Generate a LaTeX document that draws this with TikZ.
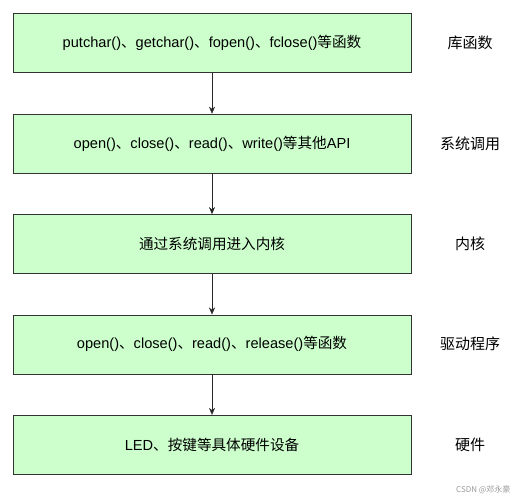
\documentclass[tikz,border=0pt]{standalone}
\usepackage{fontspec}
\setmainfont{Liberation Sans}
\newfontfamily\cjk{Noto Sans CJK SC}
\usetikzlibrary{positioning,arrows.meta}
\newcommand{\zh}[1]{{\cjk #1}}
\tikzset{Layer/.style={rectangle, minimum width=398pt, minimum height=59pt, draw=black!80, fill=green!20!white, font=\fontsize{14.6}{17}\selectfont, inner sep=0pt},
  Tag/.style={font=\fontsize{15}{18}\selectfont\cjk, anchor=center},
  Flow/.style={-{Stealth[length=7pt,width=6pt]}, draw=black!85}}
\begin{document}
\begin{tikzpicture}[x=1pt, y=1pt, node distance=41pt]
    \useasboundingbox (0,0) rectangle (532,-500);
    \coordinate (col) at (470,0);
    \node[Layer] (lib) at (212,-43) {putchar()\zh{、}getchar()\zh{、}fopen()\zh{、}fclose()\zh{等函数}};
    \node[Layer, below=of lib] (sys) {open()\zh{、}close()\zh{、}read()\zh{、}write()\zh{等其他}API};
    \node[Layer, below=of sys] (kernel) {\zh{通过系统调用进入内核}};
    \node[Layer, below=of kernel] (drv) {open()\zh{、}close()\zh{、}read()\zh{、}release()\zh{等函数}};
    \node[Layer, below=of drv] (hw) {LED\zh{、按键等具体硬件设备}};

    \node[Tag] (tlib) at (lib -| col) {库函数};
    \node[Tag] (tsys) at (sys -| col) {系统调用};
    \node[Tag] (tkernel) at (kernel -| col) {内核};
    \node[Tag] (tdrv) at (drv -| col) {驱动程序};
    \node[Tag] (thw) at (hw -| col) {硬件};

    \draw[Flow] (lib) -- (sys);
    \draw[Flow] (sys) -- (kernel);
    \draw[Flow] (kernel) -- (drv);
    \draw[Flow] (drv) -- (hw);

    \node[font=\fontsize{8}{10}\selectfont\cjk, text=black!40, anchor=east] (mark) at (514,-490) {CSDN @邓永豪};
\end{tikzpicture}
\end{document}
